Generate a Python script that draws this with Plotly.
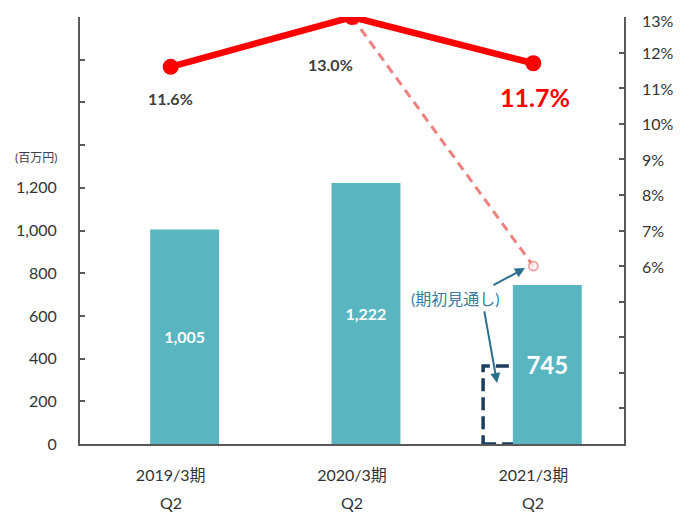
import plotly.graph_objects as go

# ---- data ----
categories = ["2019/3期", "2020/3期", "2021/3期"]
quarters = ["Q2", "Q2", "Q2"]
sales = [1005, 1222, 745]                 # 百万円
sales_forecast = [None, None, 365]        # 期初見通し
margin_pct = [11.6, 13.0, 11.7]           # %
margin_forecast = [None, 13.0, 6.0]       # 期初見通し %
left_ticks = list(range(0, 2001, 200))
left_labels = [f"{v:,}" if v <= 1200 else "" for v in left_ticks]
right_ticks = list(range(1, 14))
right_labels = [f"{v}%" if v >= 6 else "" for v in right_ticks]

FONT = "Lato, 'Noto Sans CJK JP', sans-serif"
BAR_COLOR = "#59b5bf"
AXIS = "#595959"
BAR_W = 0.38
OFF_ACT = -0.113
OFF_FC = -0.277

xs = list(range(len(categories)))

fig = go.Figure()

fig.add_trace(go.Bar(
    x=xs, y=sales, width=BAR_W, offset=OFF_ACT,
    marker=dict(color=BAR_COLOR, line=dict(width=0)),
    text=[f"{v:,}" for v in sales], texttemplate="<b>%{text}</b>",
    textposition="inside", insidetextanchor="middle",
    textfont=dict(color="white", size=[16, 16, 24], family=FONT),
    showlegend=False, hoverinfo="skip",
))

# forecast dashed bar outline (derived from data)
for i, v in enumerate(sales_forecast):
    if v is not None:
        fig.add_shape(type="rect", xref="x", yref="y",
                      x0=i + OFF_FC, x1=i + OFF_FC + BAR_W, y0=0, y1=v,
                      line=dict(color="#1b3d5e", width=3.5, dash="13px,6px"),
                      fillcolor="rgba(0,0,0,0)", layer="below")

fig.add_trace(go.Scatter(
    x=xs, y=margin_forecast, yaxis="y2", mode="lines+markers",
    line=dict(color="#f08080", width=3, dash="9px,6px"),
    marker=dict(size=[0, 0, 9], color="white", line=dict(color="#f08080", width=2)),
    showlegend=False, hoverinfo="skip", connectgaps=False,
))

fig.add_trace(go.Scatter(
    x=xs, y=margin_pct, yaxis="y2", mode="lines+markers",
    line=dict(color="#ff0000", width=6.5),
    marker=dict(size=16, color="#ff0000"),
    showlegend=False, hoverinfo="skip",
))

# line labels
lab_style = [
    dict(xshift=0, yshift=-32, size=16, color="#404040"),
    dict(xshift=-22, yshift=-47, size=16, color="#404040"),
    dict(xshift=2, yshift=-34, size=25, color="#ff0000"),
]
for i, (v, s) in enumerate(zip(margin_pct, lab_style)):
    fig.add_annotation(x=i, y=v, xref="x", yref="y2", text=f"<b>{v:.1f}%</b>",
                       showarrow=False, xshift=s["xshift"], yshift=s["yshift"],
                       font=dict(size=s["size"], color=s["color"], family=FONT))

# right-axis tick labels (placed on the y2 scale)
top_tick = max(right_ticks)
for v, t in zip(right_ticks, right_labels):
    if t:
        fig.add_annotation(x=1, y=v, xref="paper", yref="y2", text=t,
                           showarrow=False, xanchor="left", yanchor="middle",
                           xshift=16, yshift=(-3 if v == top_tick else 0),
                           font=dict(size=16, color="#333333", family=FONT))

# second line of category labels
for i, q in enumerate(quarters):
    fig.add_annotation(x=i, y=-0.136, xref="x", yref="paper", text=q,
                       showarrow=False, yanchor="middle",
                       font=dict(size=16, color="#333333", family=FONT))

fig.add_annotation(xref="paper", yref="paper", x=-0.081, y=0.67, text="(百万円)",
                   xanchor="center", yanchor="middle",
                   showarrow=False, font=dict(size=12, color="#404040", family=FONT))

ARROW = "#2a6f8d"
fig.add_annotation(x=1.568, y=5.10, xref="x", yref="y2", text="(期初見通し)",
                   showarrow=False, xanchor="center", yanchor="middle",
                   font=dict(size=16, color="#3a7d9e", family=FONT))
fig.add_annotation(x=1.954, y=5.945, xref="x", yref="y2", text="",
                   showarrow=True, ax=-33, ay=18, arrowcolor=ARROW, arrowwidth=2,
                   arrowhead=2, arrowsize=1)
fig.add_annotation(x=1.80, y=286, xref="x", yref="y", text="",
                   showarrow=True, ax=-13, ay=-73, arrowcolor=ARROW, arrowwidth=2,
                   arrowhead=2, arrowsize=1)

fig.update_layout(
    width=682, height=505,
    margin=dict(l=72, r=66, t=9, b=69),
    paper_bgcolor="white", plot_bgcolor="white",
    barmode="overlay",
    font=dict(family=FONT, color="#333333"),
    xaxis=dict(range=[-0.5, 2.5], tickvals=xs, ticktext=categories,
               showline=True, linecolor=AXIS, linewidth=2, ticks="",
               showgrid=False, zeroline=False, tickfont=dict(size=16),
               ticklabelstandoff=16, automargin=False, fixedrange=True,
               ticklabeloverflow="allow"),
    yaxis=dict(range=[0, 2000], tickvals=left_ticks, ticktext=left_labels,
               showline=True, linecolor=AXIS, linewidth=2, ticks="inside",
               ticklen=5, tickcolor=AXIS, tickwidth=1.5, showgrid=False,
               zeroline=False, tickfont=dict(size=16), ticklabelstandoff=18,
               automargin=False, ticklabeloverflow="allow"),
    yaxis2=dict(range=[1, 13], tickvals=right_ticks, showticklabels=False,
                overlaying="y", side="right", showline=True, linecolor=AXIS,
                linewidth=2, ticks="inside", ticklen=5, tickcolor=AXIS,
                tickwidth=1.5, showgrid=False, zeroline=False,
                automargin=False),
)

fig.write_html("out.html")
